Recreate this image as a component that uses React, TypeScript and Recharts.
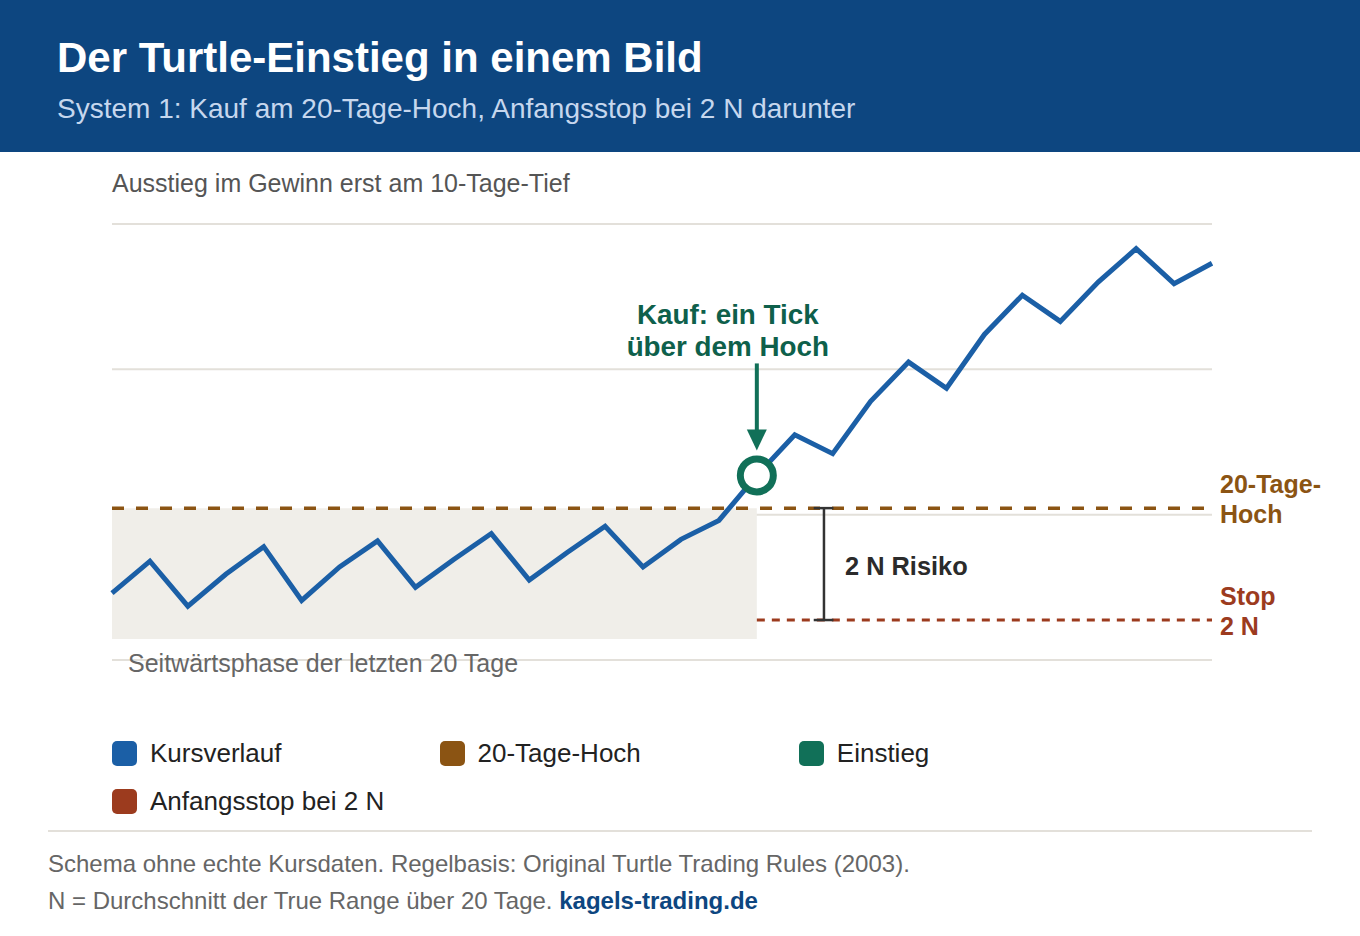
import {
  ComposedChart,
  Line,
  XAxis,
  YAxis,
  CartesianGrid,
  ReferenceArea,
  ReferenceLine,
  ReferenceDot,
} from "recharts";

// schematic price path, one value per day
const price = [
  4.6, 6.8, 3.7, 5.9, 7.8, 4.1, 6.4, 8.2, 5.0, 6.9, 8.7, 5.5, 7.4, 9.2, 6.4,
  8.3, 9.6, 12.7, 15.5, 14.2, 17.8, 20.5, 18.7, 22.4, 25.1, 23.3, 26.0, 28.3,
  25.9, 27.3,
];
const gridTicks = [0, 10, 20, 30];
const entryDay = 17;
const lastDay = 29;
const high20 = 10.45;
const stop2N = 2.75;
const rangeFloor = 1.45;
const riskDay = 18.77;
const riskCap = [18.5, 19.02];

const legendNames = ["Kursverlauf", "20-Tage-Hoch", "Einstieg", "Anfangsstop bei 2 N"];
const legendColors = ["#1b5fa6", "#8b5413", "#117058", "#9c3b1e"];

const BLUE = "#1b5fa6";
const BROWN = "#8b5413";
const GREEN = "#117058";
const RUST = "#9c3b1e";
const FONT = "'Liberation Sans', Arial, Helvetica, sans-serif";

const data = price.map((p, i) => ({ day: i, price: p }));

function center(vb: any) {
  return { cx: vb.x + (vb.width || 0) / 2, cy: vb.y + (vb.height || 0) / 2 };
}

function twoLines(a: string, b: string, color: string) {
  return ({ viewBox }: any) => {
    const { cx, cy } = center(viewBox);
    return (
      <g fontFamily={FONT} fontSize={25} fontWeight={700} fill={color}>
        <text x={cx + 8} y={cy - 15}>{a}</text>
        <text x={cx + 8} y={cy + 15}>{b}</text>
      </g>
    );
  };
}

function EntryLabel({ viewBox }: any) {
  const { cx, cy } = center(viewBox);
  return (
    <g fontFamily={FONT}>
      <line x1={cx} x2={cx} y1={cy - 112} y2={cy - 44} stroke={GREEN} strokeWidth={4} />
      <path d={`M${cx - 10},${cy - 46} L${cx + 10},${cy - 46} L${cx},${cy - 25} Z`} fill={GREEN} />
      <g fontSize={27.8} fontWeight={700} fill="#0e604b" textAnchor="middle">
        <text x={cx - 29} y={cy - 151}>Kauf: ein Tick</text>
        <text x={cx - 29} y={cy - 119}>über dem Hoch</text>
      </g>
    </g>
  );
}

function RiskLabel({ viewBox }: any) {
  const { cx, cy } = center(viewBox);
  return (
    <text x={cx + 21} y={cy + 11} fontFamily={FONT} fontSize={25.4} fontWeight={700} fill="#2b2b2b">
      2 N Risiko
    </text>
  );
}

function RangeLabel({ viewBox }: any) {
  return (
    <text x={viewBox.x + 16} y={viewBox.y + viewBox.height + 33} fontFamily={FONT} fontSize={25} fill="#666">
      Seitwärtsphase der letzten 20 Tage
    </text>
  );
}

export default function App() {
  return (
    <div
      style={{
        position: "absolute",
        left: 0,
        top: 0,
        width: 1360,
        height: 936,
        background: "#fff",
        fontFamily: FONT,
        overflow: "hidden",
      }}
    >
      <div style={{ position: "absolute", left: 0, top: 0, width: 1360, height: 152, background: "#0d4680" }}>
        <div style={{ position: "absolute", left: 57, top: 37, fontSize: 42, lineHeight: 1, fontWeight: 700, color: "#fff", whiteSpace: "nowrap" }}>
          Der Turtle-Einstieg in einem Bild
        </div>
        <div style={{ position: "absolute", left: 57, top: 95, fontSize: 28, lineHeight: 1, color: "#c6d7ee", whiteSpace: "nowrap" }}>
          System 1: Kauf am 20-Tage-Hoch, Anfangsstop bei 2 N darunter
        </div>
      </div>

      <div style={{ position: "absolute", left: 112, top: 171, fontSize: 25, lineHeight: 1, color: "#555", whiteSpace: "nowrap" }}>
        Ausstieg im Gewinn erst am 10-Tage-Tief
      </div>

      <div style={{ position: "absolute", left: 0, top: 152 }}>
        <ComposedChart
          width={1360}
          height={560}
          data={data}
          margin={{ top: 72, right: 148, bottom: 52, left: 112 }}
        >
          <CartesianGrid vertical={false} stroke="#e3e0da" strokeWidth={2} horizontalValues={gridTicks} />
          <XAxis type="number" dataKey="day" domain={[0, lastDay]} hide />
          <YAxis type="number" domain={[0, 30]} ticks={gridTicks} hide />
          <ReferenceArea
            x1={0}
            x2={entryDay}
            y1={rangeFloor}
            y2={high20}
            fill="#f0eee9"
            fillOpacity={1}
            stroke="none"
            label={<RangeLabel />}
          />
          <ReferenceLine y={high20} stroke={BROWN} strokeWidth={3.5} strokeDasharray="12 12" />
          <ReferenceLine
            segment={[{ x: entryDay, y: stop2N }, { x: lastDay, y: stop2N }]}
            stroke={RUST}
            strokeWidth={3}
            strokeDasharray="8 7"
          />
          <ReferenceLine segment={[{ x: riskDay, y: stop2N }, { x: riskDay, y: high20 }]} stroke="#333" strokeWidth={2.5} />
          <ReferenceLine segment={[{ x: riskCap[0], y: high20 }, { x: riskCap[1], y: high20 }]} stroke="#333" strokeWidth={2.5} />
          <ReferenceLine segment={[{ x: riskCap[0], y: stop2N }, { x: riskCap[1], y: stop2N }]} stroke="#333" strokeWidth={2.5} />
          <Line
            type="linear"
            dataKey="price"
            stroke={BLUE}
            strokeWidth={5}
            dot={false}
            activeDot={false}
            isAnimationActive={false}
          />
          <ReferenceDot
            x={entryDay}
            y={price[entryDay]}
            r={16.5}
            fill="#fff"
            stroke={GREEN}
            strokeWidth={7}
            label={<EntryLabel />}
          />
          <ReferenceDot x={riskDay} y={(high20 + stop2N) / 2} r={0} stroke="none" fill="none" label={<RiskLabel />} />
          <ReferenceDot
            x={lastDay}
            y={high20}
            r={0}
            stroke="none"
            fill="none"
            ifOverflow="visible"
            label={twoLines("20-Tage-", "Hoch", BROWN)}
          />
          <ReferenceDot
            x={lastDay}
            y={stop2N}
            r={0}
            stroke="none"
            fill="none"
            ifOverflow="visible"
            label={twoLines("Stop", "2 N", RUST)}
          />
        </ComposedChart>
      </div>

      <div
        style={{
          position: "absolute",
          left: 112,
          top: 738,
          width: 1100,
          display: "flex",
          flexWrap: "wrap",
          columnGap: 158,
          rowGap: 18,
        }}
      >
        {legendNames.map((name, i) => (
          <div key={name} style={{ display: "flex", alignItems: "center", height: 30 }}>
            <div style={{ width: 25, height: 25, borderRadius: 5, background: legendColors[i], marginRight: 13 }} />
            <span style={{ fontSize: 26, color: "#222", whiteSpace: "nowrap" }}>{name}</span>
          </div>
        ))}
      </div>

      <div style={{ position: "absolute", left: 48, top: 830, width: 1264, height: 2, background: "#e3e0da" }} />
      <div style={{ position: "absolute", left: 48, top: 852, fontSize: 24, lineHeight: 1, color: "#666", whiteSpace: "nowrap" }}>
        Schema ohne echte Kursdaten. Regelbasis: Original Turtle Trading Rules (2003).
      </div>
      <div style={{ position: "absolute", left: 48, top: 889, fontSize: 24, lineHeight: 1, color: "#666", whiteSpace: "nowrap" }}>
        N = Durchschnitt der True Range über 20 Tage.{" "}
        <span style={{ color: "#0d4680", fontWeight: 700 }}>kagels-trading.de</span>
      </div>
    </div>
  );
}
